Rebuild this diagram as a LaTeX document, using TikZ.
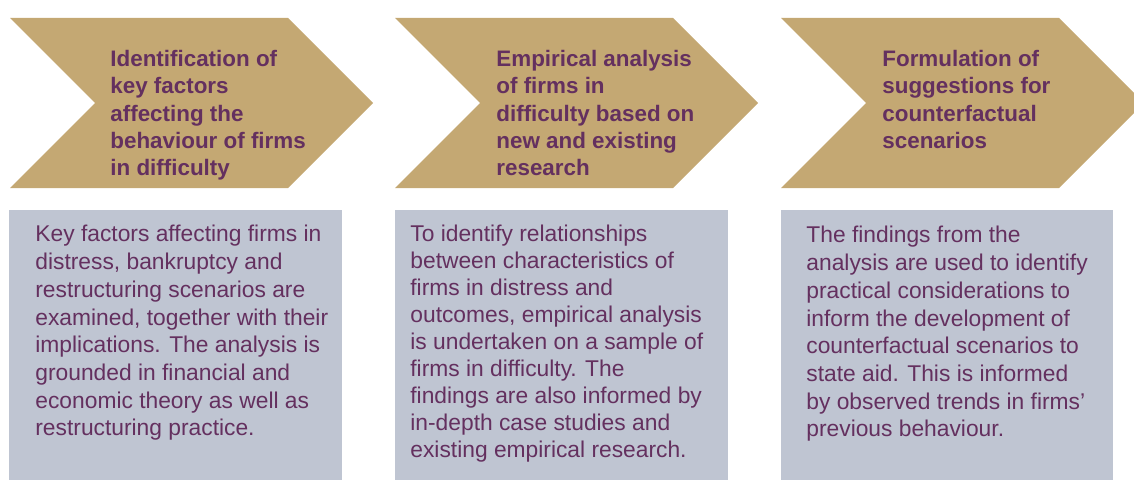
\documentclass[tikz,border=0pt]{standalone}
\usepackage{fontspec}
\setmainfont{Liberation Sans}
\usetikzlibrary{positioning}
\definecolor{gold}{HTML}{C4A873}
\definecolor{panel}{HTML}{BFC5D2}
\definecolor{plum}{HTML}{64305F}
\begin{document}
\begin{tikzpicture}[x=0.5pt, y=-0.5pt,
  head/.style={anchor=north west, inner sep=0pt, align=left, text=plum, font=\fontsize{11.2}{13.6}\selectfont\bfseries},
  body/.style={anchor=north west, inner sep=0pt, align=left, text=plum, font=\fontsize{11.4}{13.85}\selectfont}]
\clip (0,0) rectangle (1134,481);
% chevrons
\foreach \o in {10,395,781}
  \fill[gold] (\o,18) -- ++(278,0) -- ++(85,85) -- ++(-85,85) -- ++(-278,0) -- ++(85,-85) -- cycle;
% panels
\foreach \o/\w in {9/333,395/333,781/332}
  \fill[panel] (\o,210) rectangle ++(\w,270);
\node[head] (h1) at (110,50) {Identification of\\key factors\\affecting the\\behaviour of firms\\in difficulty};
\node[head] (h2) at (496,50) {Empirical analysis\\of firms in\\difficulty based on\\new and existing\\research};
\node[head] (h3) at (882,50) {Formulation of\\suggestions for\\counterfactual\\scenarios};
\node[body] (b1) at (35,225) {Key factors affecting firms in\\distress, bankruptcy and\\restructuring scenarios are\\examined, together with their\\implications. The analysis is\\grounded in financial and\\economic theory as well as\\restructuring practice.};
\node[body, font=\fontsize{11.4}{13.45}\selectfont] (b2) at (410,225) {To identify relationships\\between characteristics of\\firms in distress and\\outcomes, empirical analysis\\is undertaken on a sample of\\firms in difficulty. The\\findings are also informed by\\in-depth case studies and\\existing empirical research.};
\node[body] (b3) at (806,226) {The findings from the\\analysis are used to identify\\practical considerations to\\inform the development of\\counterfactual scenarios to\\state aid. This is informed\\by observed trends in firms’\\previous behaviour.};
\end{tikzpicture}
\end{document}
